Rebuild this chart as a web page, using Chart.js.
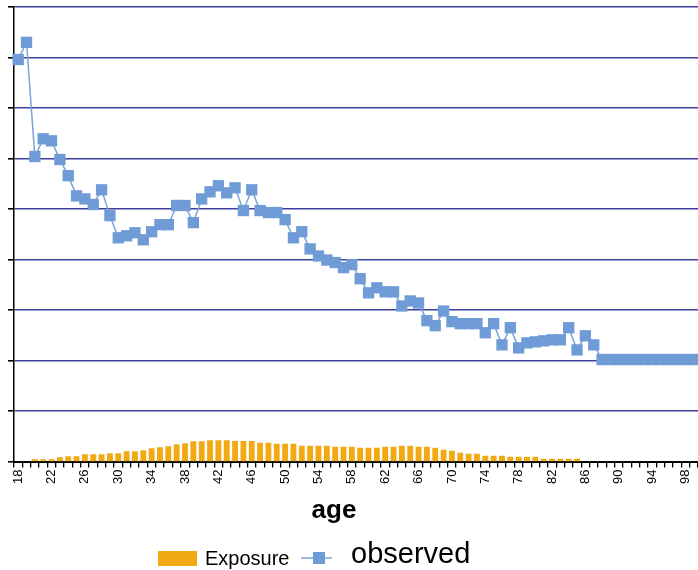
<!DOCTYPE html>
<html lang="en">
<head>
  <meta charset="UTF-8" />
  <title>Exposure vs observed by age</title>
  <script src="https://cdn.jsdelivr.net/npm/chart.js"></script>
  <style>
    html, body { margin: 0; padding: 0; background: #fff; }
    #wrap { width: 698px; height: 570px; position: relative; }
  </style>
</head>
<body>
  <div id="wrap"><canvas id="ageChart"></canvas></div>

  <script>
    // ages 18..99
    const ages = [];
    for (let a = 18; a <= 99; a++) ages.push(String(a));

    // exposure bars (relative units)
    const exposure = [
      0, 0, 2.3, 2.3, 2.3, 4.3, 5.3, 5.3, 7.3, 7.3,
      7.3, 8.3, 8.3, 10.3, 10.3, 11.3, 13.3, 14.3, 15.3, 17.3,
      18.3, 20.3, 20.3, 21.3, 21.3, 21.3, 20.5, 20.5, 20.5, 18.7,
      18.7, 17.7, 17.7, 17.7, 15.7, 15.7, 15.7, 15.7, 14.7, 14.7,
      14.7, 13.7, 13.7, 13.7, 14.7, 14.7, 15.7, 15.7, 14.7, 14.7,
      13.7, 11.7, 10.7, 8.7, 7.7, 7.7, 5.7, 5.7, 5.7, 4.7,
      4.7, 4.7, 4.7, 2.7, 2.7, 2.7, 2.7, 2.7, 0, 0,
      0, 0, 0, 0, 0, 0, 0, 0, 0, 0,
      0, 0
    ];

    // observed series
    const observed = [
      7.96, 8.30, 6.04, 6.39, 6.35, 5.98, 5.66, 5.26, 5.20, 5.09,
      5.38, 4.87, 4.43, 4.47, 4.53, 4.39, 4.55, 4.69, 4.69, 5.07,
      5.07, 4.73, 5.20, 5.34, 5.46, 5.32, 5.42, 4.97, 5.38, 4.97,
      4.93, 4.93, 4.79, 4.43, 4.55, 4.21, 4.07, 3.99, 3.94, 3.84,
      3.90, 3.62, 3.34, 3.44, 3.36, 3.36, 3.08, 3.18, 3.14, 2.79,
      2.69, 2.98, 2.77, 2.73, 2.73, 2.73, 2.55, 2.73, 2.31, 2.65,
      2.25, 2.35, 2.37, 2.39, 2.41, 2.41, 2.65, 2.21, 2.49, 2.31,
      2.02, 2.02, 2.02, 2.02, 2.02, 2.02, 2.02, 2.02, 2.02, 2.02,
      2.02, 2.02
    ];

    const barColor = '#F2AA14';
    const lineColor = '#7AA3DB';
    const markerColor = '#6F9BD6';
    const gridColor = '#3D3F9E';
    const font = '"Liberation Sans", Arial, sans-serif';

    // axis title + legend drawn below the plot (mixed font sizes like the original)
    const bottomText = {
      id: 'bottomText',
      afterDraw(chart) {
        const ctx = chart.ctx;
        ctx.save();
        ctx.fillStyle = '#000';
        ctx.textBaseline = 'alphabetic';
        ctx.font = 'bold 26px ' + font;
        ctx.textAlign = 'center';
        ctx.fillText('age', 334, 518);

        ctx.textAlign = 'left';
        const ds = chart.data.datasets;
        ctx.fillStyle = ds[0].backgroundColor;
        ctx.fillRect(158, 551, 39, 15);
        ctx.fillStyle = '#000';
        ctx.font = '20px ' + font;
        ctx.fillText(ds[0].label, 205, 565);

        ctx.strokeStyle = ds[1].borderColor;
        ctx.lineWidth = 1.5;
        ctx.beginPath();
        ctx.moveTo(301, 558);
        ctx.lineTo(332, 558);
        ctx.stroke();
        ctx.fillStyle = ds[1].pointBackgroundColor;
        ctx.fillRect(313, 552, 12, 12);

        ctx.fillStyle = '#000';
        ctx.font = '29px ' + font;
        ctx.fillText(ds[1].label, 351, 563);
        ctx.restore();
      }
    };

    new Chart(document.getElementById('ageChart'), {
      data: {
        labels: ages,
        datasets: [
          {
            type: 'bar',
            label: 'Exposure',
            data: exposure,
            backgroundColor: barColor,
            barPercentage: 0.7,
            categoryPercentage: 1,
            yAxisID: 'y2',
            order: 2
          },
          {
            type: 'line',
            label: 'observed',
            data: observed,
            borderColor: lineColor,
            borderWidth: 1.5,
            pointStyle: 'rect',
            pointRadius: 8,
            pointHoverRadius: 8,
            pointBorderWidth: 0,
            pointBackgroundColor: markerColor,
            pointBorderColor: markerColor,
            tension: 0,
            clip: false,
            yAxisID: 'y',
            order: 1
          }
        ]
      },
      options: {
        responsive: true,
        maintainAspectRatio: false,
        animation: false,
        layout: { autoPadding: false, padding: { left: 8, top: 7, right: 0, bottom: 84 } },
        plugins: {
          legend: { display: false },
          tooltip: { enabled: false }
        },
        scales: {
          x: {
            offset: true,
            afterFit: scale => { scale.paddingRight = 0; scale.paddingLeft = 0; },
            grid: {
              offset: true,
              drawOnChartArea: false,
              drawTicks: true,
              tickLength: 6,
              color: '#000',
              lineWidth: 1.3
            },
            border: { color: '#000', width: 2 },
            ticks: {
              autoSkip: false,
              minRotation: 90,
              maxRotation: 90,
              padding: 2,
              color: '#000',
              font: { family: font, size: 13 },
              callback: (v, i) => (i % 4 === 0 ? ages[i] : '')
            }
          },
          y: {
            min: 0,
            max: 9,
            ticks: { display: false, stepSize: 1 },
            grid: {
              color: ctx => (ctx.tick && ctx.tick.value === 0 ? 'rgba(0,0,0,0)' : gridColor),
              lineWidth: 1.6,
              tickColor: '#000',
              tickLength: 6,
              drawTicks: true
            },
            border: { color: '#000', width: 1.5 }
          },
          y2: {
            display: false,
            min: 0,
            max: 453.5
          }
        }
      },
      plugins: [bottomText]
    });
  </script>
</body>
</html>
